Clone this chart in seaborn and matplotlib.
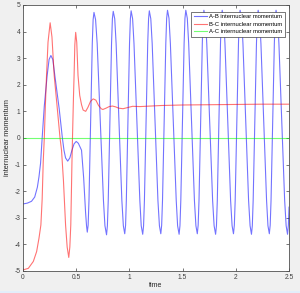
"""Internuclear momentum vs time for the A-B, B-C and A-C pairs."""

import matplotlib
matplotlib.use("Agg")
import matplotlib.pyplot as plt
import matplotlib.ticker as mticker
from matplotlib.patches import Rectangle
import pandas as pd
import seaborn as sns

# A-B internuclear momentum
ab_time = [
    0.000, 0.040, 0.080, 0.110, 0.135, 0.150, 0.165, 0.180, 0.200, 0.227,
    0.245, 0.262, 0.280, 0.299, 0.340, 0.370, 0.385, 0.400, 0.420, 0.440,
    0.460, 0.480, 0.500, 0.520, 0.550, 0.570, 0.588, 0.597, 0.604,
    0.612, 0.620, 0.636, 0.651, 0.659, 0.667, 0.682, 0.697, 0.726, 0.756, 0.770, 0.785,
    0.793, 0.801, 0.816, 0.832, 0.840, 0.848, 0.862, 0.875, 0.902, 0.929, 0.943, 0.956,
    0.964, 0.971, 0.986, 1.001, 1.009, 1.016, 1.030, 1.043, 1.070, 1.098, 1.111, 1.125,
    1.133, 1.141, 1.156, 1.172, 1.180, 1.187, 1.201, 1.214, 1.241, 1.268, 1.282, 1.295,
    1.303, 1.311, 1.327, 1.342, 1.350, 1.358, 1.372, 1.385, 1.412, 1.440, 1.453, 1.467,
    1.475, 1.483, 1.498, 1.514, 1.522, 1.530, 1.544, 1.557, 1.584, 1.611, 1.625, 1.638,
    1.646, 1.654, 1.669, 1.685, 1.692, 1.700, 1.714, 1.727, 1.755, 1.782, 1.796, 1.810,
    1.818, 1.826, 1.841, 1.856, 1.864, 1.872, 1.885, 1.898, 1.925, 1.951, 1.965, 1.978,
    1.986, 1.994, 2.009, 2.025, 2.032, 2.040, 2.054, 2.067, 2.094, 2.120, 2.134, 2.147,
    2.155, 2.163, 2.178, 2.194, 2.202, 2.210, 2.223, 2.236, 2.262, 2.289, 2.302, 2.315,
    2.323, 2.331, 2.346, 2.362, 2.370, 2.378, 2.392, 2.405, 2.432, 2.459, 2.473, 2.486,
    2.494, 2.500,
]
ab_value = [
    -2.48, -2.45, -2.38, -2.22, -1.85, -1.46, -0.95, 0.00, 1.20, 2.35,
    2.95, 3.10, 2.95, 2.35, 1.10, 0.00, -0.46, -0.75, -0.87, -0.75,
    -0.46, -0.22, -0.13, -0.20, -0.46, -1.50, -2.80, -3.30, -3.54,
    -3.28, -2.35, 0.60, 3.55, 4.45, 4.72, 4.45, 3.55, 0.60, -2.35, -3.30, -3.64,
    -3.30, -2.35, 0.60, 3.55, 4.48, 4.76, 4.48, 3.55, 0.60, -2.35, -3.30, -3.60,
    -3.28, -2.35, 0.60, 3.55, 4.48, 4.78, 4.48, 3.55, 0.60, -2.35, -3.30, -3.62,
    -3.30, -2.35, 0.60, 3.55, 4.48, 4.78, 4.48, 3.55, 0.60, -2.35, -3.30, -3.60,
    -3.28, -2.35, 0.60, 3.55, 4.50, 4.80, 4.50, 3.55, 0.60, -2.35, -3.30, -3.62,
    -3.30, -2.35, 0.60, 3.55, 4.50, 4.80, 4.50, 3.55, 0.60, -2.35, -3.30, -3.60,
    -3.28, -2.35, 0.60, 3.55, 4.50, 4.80, 4.50, 3.55, 0.60, -2.35, -3.30, -3.62,
    -3.30, -2.35, 0.60, 3.55, 4.50, 4.80, 4.50, 3.55, 0.60, -2.35, -3.30, -3.60,
    -3.28, -2.35, 0.60, 3.55, 4.50, 4.80, 4.50, 3.55, 0.60, -2.35, -3.30, -3.62,
    -3.30, -2.35, 0.60, 3.55, 4.50, 4.80, 4.50, 3.55, 0.60, -2.35, -3.30, -3.60,
    -3.28, -2.35, 0.60, 3.55, 4.50, 4.80, 4.50, 3.55, 0.60, -2.35, -3.30, -3.62,
    -3.28, -2.60,
]

# B-C internuclear momentum
bc_time = [
    0.000, 0.050, 0.097, 0.128, 0.150, 0.168, 0.180, 0.190, 0.200, 0.210,
    0.221, 0.235, 0.255, 0.272, 0.293, 0.320, 0.348, 0.362, 0.380, 0.400,
    0.415, 0.430, 0.440, 0.449, 0.455, 0.460, 0.465, 0.474, 0.480, 0.487,
    0.495, 0.505, 0.517, 0.533, 0.550, 0.565, 0.589, 0.610, 0.635, 0.660,
    0.685, 0.710, 0.735, 0.750, 0.780, 0.810, 0.840, 0.870, 0.900, 0.940,
    0.980, 1.030, 1.100, 1.200, 1.300, 1.500, 1.750, 2.000, 2.250, 2.500,
]
bc_value = [
    -4.96, -4.90, -4.64, -4.27, -3.77, -3.27, -2.30, -0.90, 0.00, 1.20,
    2.35, 3.60, 4.33, 3.80, 2.35, 1.20, 0.00, -0.46, -1.60, -3.27,
    -4.10, -4.49, -4.10, -3.27, -2.00, -0.90, 0.00, 1.50, 2.35, 3.50,
    3.97, 3.60, 2.35, 1.60, 1.25, 1.05, 1.00, 1.15, 1.38, 1.47,
    1.42, 1.22, 1.10, 1.07, 1.12, 1.18, 1.20, 1.17, 1.12, 1.10,
    1.14, 1.19, 1.18, 1.20, 1.22, 1.24, 1.25, 1.26, 1.27, 1.27,
]

# A-C internuclear momentum
ac_time = [0.0, 2.5]
ac_value = [0.0, 0.0]

labels = ["A-B internuclear momentum", "B-C internuclear momentum", "A-C internuclear momentum"]
colors = ["#0000ff", "#ff0000", "#00ff00"]

df = pd.concat([
    pd.DataFrame({"time": ab_time, "value": ab_value, "series": labels[0]}),
    pd.DataFrame({"time": bc_time, "value": bc_value, "series": labels[1]}),
    pd.DataFrame({"time": ac_time, "value": ac_value, "series": labels[2]}),
])

plt.rcParams["font.family"] = ["Liberation Sans", "DejaVu Sans"]
plt.rcParams["axes.unicode_minus"] = False

fig = plt.figure(figsize=(3.0, 2.93), dpi=100, facecolor="#f0f0f0")
ax = fig.add_axes([0.0767, 0.0751, 0.8867, 0.908])
ax.set_facecolor("white")

sns.lineplot(
    data=df, x="time", y="value", hue="series", hue_order=labels,
    palette=dict(zip(labels, colors)), estimator=None, sort=False,
    linewidth=0.8, alpha=0.55, ax=ax,
)

ax.set_xlim(0, 2.5)
ax.set_ylim(-5, 5)
ax.set_xticks([0, 0.5, 1, 1.5, 2, 2.5])
ax.set_yticks(range(-5, 6))
ax.xaxis.set_major_formatter(mticker.FormatStrFormatter("%g"))
ax.tick_params(direction="in", length=2, width=0.5, labelsize=4.8, pad=2,
               top=True, right=True, colors="#404040")
for s in ax.spines.values():
    s.set_color("#505050")
    s.set_linewidth(0.6)

ax.set_xlabel("time", fontsize=5, labelpad=1, color="#262626")
ax.set_ylabel("internuclear momentum", fontsize=5.3, labelpad=2, color="#262626")

leg = ax.legend(
    loc="upper right", bbox_to_anchor=(0.985, 0.975), fontsize=4.2, frameon=True,
    fancybox=False, framealpha=1, edgecolor="#404040", borderaxespad=0,
    handlelength=2.3, handletextpad=0.4, labelspacing=0.4, borderpad=0.45,
)
leg.get_frame().set_linewidth(0.5)
for line in leg.get_lines():
    line.set_alpha(0.55)

fig.patches.append(Rectangle((0, 0), 1, 2 / 293, transform=fig.transFigure,
                             facecolor="#e3eefa", edgecolor="none"))

fig.savefig("out.png", dpi=100, facecolor=fig.get_facecolor())
